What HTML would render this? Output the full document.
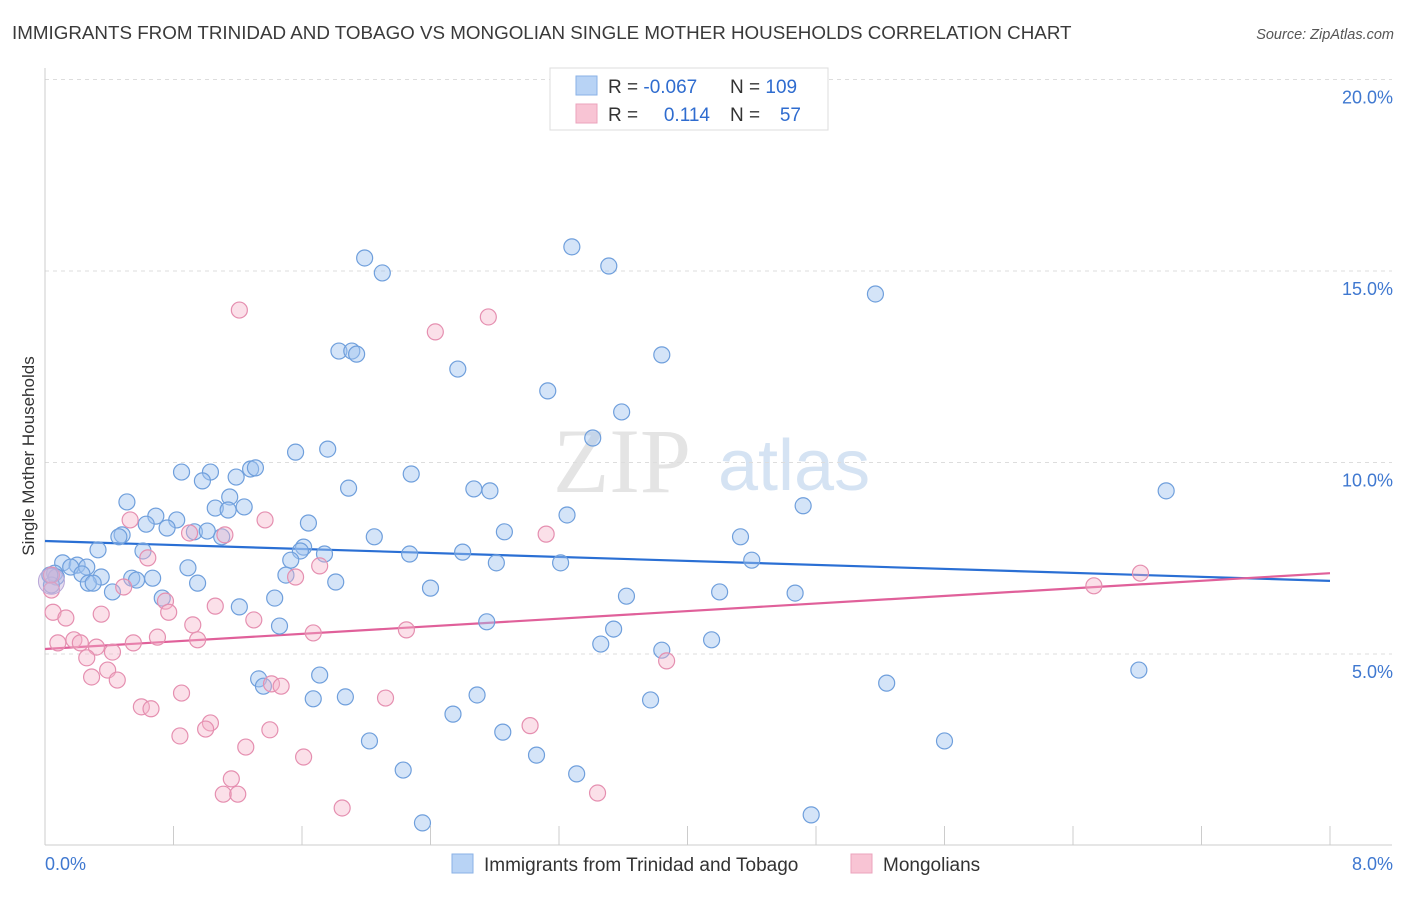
<!DOCTYPE html>
<html><head><meta charset="utf-8"><style>
body{margin:0;background:#fff;font-family:"Liberation Sans",sans-serif}
</style></head><body>
<svg id="chart" width="1406" height="892" xmlns="http://www.w3.org/2000/svg" font-family="Liberation Sans, sans-serif">
<text x="12" y="39" font-size="18.8" fill="#3a3a3a">IMMIGRANTS FROM TRINIDAD AND TOBAGO VS MONGOLIAN SINGLE MOTHER HOUSEHOLDS CORRELATION CHART</text>
<text x="1394" y="39" font-size="14.5" fill="#555" text-anchor="end" font-style="italic">Source: ZipAtlas.com</text>
<text transform="translate(34,456) rotate(-90)" font-size="17" fill="#333" text-anchor="middle">Single Mother Households</text>
<g>
<text x="553" y="492" font-family="Liberation Serif, serif" font-size="92" fill="#e4e4e4">ZIP</text>
<text x="718" y="490" font-size="72" fill="#d5e3f3">atlas</text>
</g>
<g id="grid"></g><g id="axes"></g><g id="trends"></g><g id="pts"></g>
<g>
<rect x="550" y="68" width="278" height="62" fill="#fff" stroke="#ddd"/>
<rect x="576" y="76" width="21" height="19" fill="#b8d3f5" stroke="#8ab2e6"/>
<rect x="576" y="104" width="21" height="19" fill="#f8c4d4" stroke="#eba3bc"/>
<text x="608" y="93" font-size="19" fill="#333">R = <tspan fill="#2f6ccf">-0.067</tspan></text>
<text x="730" y="93" font-size="19" fill="#333">N = <tspan fill="#2f6ccf">109</tspan></text>
<text x="608" y="121" font-size="19" fill="#333">R = </text>
<text x="710" y="121" font-size="19" fill="#2f6ccf" text-anchor="end">0.114</text>
<text x="730" y="121" font-size="19" fill="#333">N = </text>
<text x="801" y="121" font-size="19" fill="#2f6ccf" text-anchor="end">57</text>
</g>
<g>
<rect x="452" y="854" width="21" height="19" fill="#b8d3f5" stroke="#8ab2e6"/>
<text x="484" y="871" font-size="19" fill="#333">Immigrants from Trinidad and Tobago</text>
<rect x="851" y="854" width="21" height="19" fill="#f8c4d4" stroke="#eba3bc"/>
<text x="883" y="871" font-size="19" fill="#333">Mongolians</text>
</g>
</svg>
<script>
const blueX=[3.28,3.51,1.99,2.10,5.17,1.83,1.91,1.94,3.84,2.57,3.13,3.59,3.41,1.56,1.76,0.85,1.03,1.28,1.31,1.19,0.98,2.28,1.89,2.67,2.77,1.15,0.51,1.06,1.14,1.24,4.72,6.98,0.69,0.82,0.63,0.76,0.93,1.01,0.48,0.46,1.10,1.64,2.86,3.25,2.05,4.33,0.33,0.61,1.61,1.59,1.74,1.53,2.27,2.60,4.40,3.21,2.81,0.11,0.20,0.16,0.26,0.89,0.06,0.23,0.35,0.54,0.67,0.07,0.27,0.30,0.57,0.95,1.50,1.81,2.40,0.42,0.73,1.43,3.62,4.20,4.67,1.21,1.46,2.75,3.54,3.46,3.84,4.15,1.33,1.36,1.71,2.69,1.67,1.87,5.24,6.81,2.54,2.85,2.02,5.60,3.06,2.23,3.31,2.35,4.77,0.04,0.03,3.77];
const blueY=[15.63,15.13,15.34,14.95,14.40,12.91,12.91,12.83,12.81,12.44,11.87,11.32,10.64,10.27,10.35,9.75,9.75,9.83,9.86,9.62,9.52,9.70,9.33,9.31,9.26,9.10,8.97,8.81,8.76,8.84,8.87,9.26,8.60,8.50,8.39,8.29,8.19,8.21,8.11,8.06,8.06,8.42,8.19,8.63,8.06,8.06,7.72,7.69,7.79,7.69,7.61,7.45,7.61,7.66,7.45,7.38,7.38,7.38,7.32,7.27,7.27,7.25,7.11,7.09,7.01,6.98,6.98,7.01,6.85,6.85,6.93,6.85,7.06,6.88,6.72,6.62,6.46,6.46,6.51,6.62,6.59,6.23,5.73,5.84,5.65,5.26,5.10,5.37,4.35,4.16,4.45,3.93,3.83,3.88,4.24,4.58,3.43,2.96,2.73,2.73,2.36,1.97,1.87,0.59,0.80,6.80,7.06,3.80];
const pinkX=[1.21,2.76,2.43,0.53,1.37,3.12,0.90,1.12,0.64,1.71,1.56,6.82,6.53,0.49,0.75,1.06,0.35,0.77,0.05,0.13,1.30,0.92,1.67,2.25,0.70,0.55,0.18,0.22,0.08,0.95,0.32,0.42,0.26,3.87,0.39,0.29,0.45,1.41,1.47,0.85,2.12,0.60,0.66,1.03,1.00,1.40,3.02,0.84,1.25,1.61,1.16,1.11,1.20,1.85,3.44,0.04,0.04];
const pinkY=[13.98,13.80,13.41,8.50,8.50,8.13,8.16,8.11,7.51,7.30,7.01,7.11,6.78,6.75,6.38,6.25,6.04,6.09,6.09,5.94,5.89,5.76,5.55,5.63,5.44,5.29,5.37,5.29,5.29,5.37,5.18,5.05,4.90,4.82,4.58,4.40,4.32,4.22,4.16,3.98,3.85,3.62,3.57,3.20,3.04,3.02,3.13,2.86,2.57,2.31,1.74,1.34,1.34,0.98,1.37,7.06,6.67];
const blueTrend=[7.95,6.91];
const pinkTrend=[5.13,7.11];
const yTicks=[5,10,15,20];
const yTickLabels=["5.0%","10.0%","15.0%","20.0%"];
const xTickVals=[0,0.8,1.6,2.4,3.2,4.0,4.8,5.6,6.4,7.2,8.0];
const NS='http://www.w3.org/2000/svg';
const sx=v=>45+v*(1285/8);
const sy=v=>845.5-v*38.3;
function mk(p,t,a){const e=document.createElementNS(NS,t);for(const k in a)e.setAttribute(k,a[k]);p.appendChild(e);return e;}
const grid=document.getElementById('grid'),axes=document.getElementById('axes'),trends=document.getElementById('trends'),pts=document.getElementById('pts');
yTicks.forEach((v,i)=>{
 const l=mk(grid,'line',{x1:45,x2:1392,y1:sy(v),y2:sy(v),stroke:'#ddd','stroke-dasharray':'4,4'});
 
 
 const t=mk(axes,'text',{x:1393,y:sy(v)+24,'font-size':18,fill:'#3f78d0','text-anchor':'end'});
 t.textContent=yTickLabels[i];
 
 
});
const ax=mk(axes,'line',{x1:45,x2:45,y1:68,y2:845,stroke:'#ccc'});


const bx=mk(axes,'line',{x1:45,x2:1392,y1:845,y2:845,stroke:'#ccc'});


xTickVals.forEach(v=>{
 const t=mk(axes,'line',{x1:sx(v),x2:sx(v),y1:826,y2:845,stroke:'#ccc'});
 
 
});
const xl0=mk(axes,'text',{x:45,y:870,'font-size':18,fill:'#3f78d0'});xl0.textContent='0.0%';


const xl1=mk(axes,'text',{x:1393,y:870,'font-size':18,fill:'#3f78d0','text-anchor':'end'});xl1.textContent='8.0%';


function dots(X,Y,fill,stroke,name){X.forEach((x,i)=>{
 const c=mk(pts,'circle',{cx:sx(x),cy:sy(Y[i]),r:8,fill:fill,stroke:stroke,'stroke-width':1.2});
 
 
});}
dots(blueX,blueY,'rgba(160,196,240,0.45)','#6f9fdc','trinidad-point');
dots(pinkX,pinkY,'rgba(245,178,200,0.4)','#e58fb0','mongolian-point');
const big=mk(pts,'circle',{cx:sx(0.04),cy:sy(6.9),r:13,fill:'rgba(200,180,220,0.45)',stroke:'#b9a8d8'});


const bl=mk(trends,'line',{x1:sx(0),x2:sx(8),y1:sy(blueTrend[0]),y2:sy(blueTrend[1]),stroke:'#2a6fd4','stroke-width':2.2});


const pl=mk(trends,'line',{x1:sx(0),x2:sx(8),y1:sy(pinkTrend[0]),y2:sy(pinkTrend[1]),stroke:'#e0609a','stroke-width':2.2});


</script>
</body></html>
